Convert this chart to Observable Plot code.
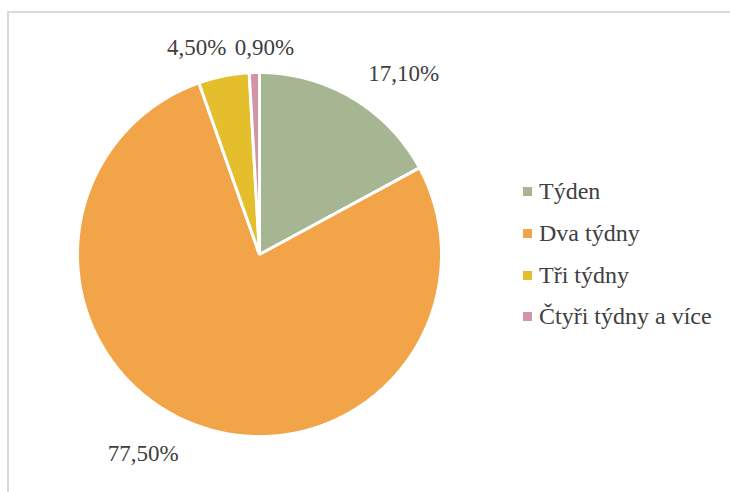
<!DOCTYPE html>
<html>
<head>
<meta charset="utf-8">
<script src="https://cdn.jsdelivr.net/npm/d3@7"></script>
<script src="https://cdn.jsdelivr.net/npm/@observablehq/plot@0.6"></script>
<style>
  html, body { margin: 0; padding: 0; background: #fff; overflow: hidden; }
  #wrap { position: relative; width: 730px; height: 492px; overflow: hidden; }
  #frame { position: absolute; left: 7px; top: 11px; width: 740px; height: 500px;
           border: 2px solid #d9d9d9; box-sizing: border-box; }
  #chart { position: absolute; left: 0; top: 0; }
  #legend { position: absolute; left: 523px; top: 171px;
            font-family: "Liberation Serif", "Times New Roman", Tinos, "DejaVu Serif", serif;
            font-size: 24px; color: #404040; }
  .item { display: flex; align-items: center; height: 41.7px; }
  .sw { width: 9px; height: 9px; margin-right: 7px; }
</style>
</head>
<body>
<div id="wrap">
  <div id="frame"></div>
  <div id="chart"></div>
  <div id="legend"></div>
</div>
<script>
const categories = ["Týden", "Dva týdny", "Tři týdny", "Čtyři týdny a více"];
const values = [17.1, 77.5, 4.5, 0.9];
const valueLabels = ["17,10%", "77,50%", "4,50%", "0,90%"];
const colors = ["#a6b592", "#f2a548", "#e4be2c", "#d295a8"];

const serif = '"Liberation Serif", "Times New Roman", Tinos, "DejaVu Serif", serif';

// derive slice geometry from the values
const total = d3.sum(values);
let acc = 0;
const slices = values.map((v, i) => {
  const a0 = acc / total * 2 * Math.PI;
  acc += v;
  const a1 = acc / total * 2 * Math.PI;
  return {name: categories[i], value: v, label: valueLabels[i], color: colors[i], a0, a1, mid: (a0 + a1) / 2};
});

const points = [];
for (const s of slices) {
  points.push({name: s.name, color: s.color, x: 0, y: 0});
  const n = Math.max(2, Math.ceil((s.a1 - s.a0) / (Math.PI / 360)));
  for (let k = 0; k <= n; k++) {
    const a = s.a0 + (s.a1 - s.a0) * k / n;
    points.push({name: s.name, color: s.color, x: Math.sin(a), y: Math.cos(a)});
  }
}

const labelPts = slices.map(s => ({label: s.label, x: Math.sin(s.mid), y: Math.cos(s.mid)}));
const offsets = [[51, -25], [-51, 29], [-27, -28], [10, -25]];

const textMarks = labelPts.map((d, i) => Plot.text([d], {
  x: "x", y: "y", text: "label", dx: offsets[i][0], dy: offsets[i][1],
  fontSize: 23, fontFamily: serif, fill: "#404040", textAnchor: "middle"
}));

const chart = Plot.plot({
  width: 730,
  height: 492,
  marginLeft: 77,
  marginRight: 289,
  marginTop: 72,
  marginBottom: 56,
  x: {domain: [-1, 1], axis: null},
  y: {domain: [-1, 1], axis: null},
  style: {background: "transparent", overflow: "visible", fontFamily: serif},
  marks: [
    Plot.line(points, {x: "x", y: "y", z: "name", fill: "color", stroke: "white", strokeWidth: 3,
      strokeLinejoin: "miter", curve: "linear-closed"}),
    ...textMarks
  ]
});
document.getElementById("chart").appendChild(chart);

const legend = document.getElementById("legend");
categories.forEach((c, i) => {
  const item = document.createElement("div");
  item.className = "item";
  const sw = document.createElement("span");
  sw.className = "sw";
  sw.style.background = colors[i];
  const t = document.createElement("span");
  t.textContent = c;
  item.appendChild(sw);
  item.appendChild(t);
  legend.appendChild(item);
});
</script>
</body>
</html>
